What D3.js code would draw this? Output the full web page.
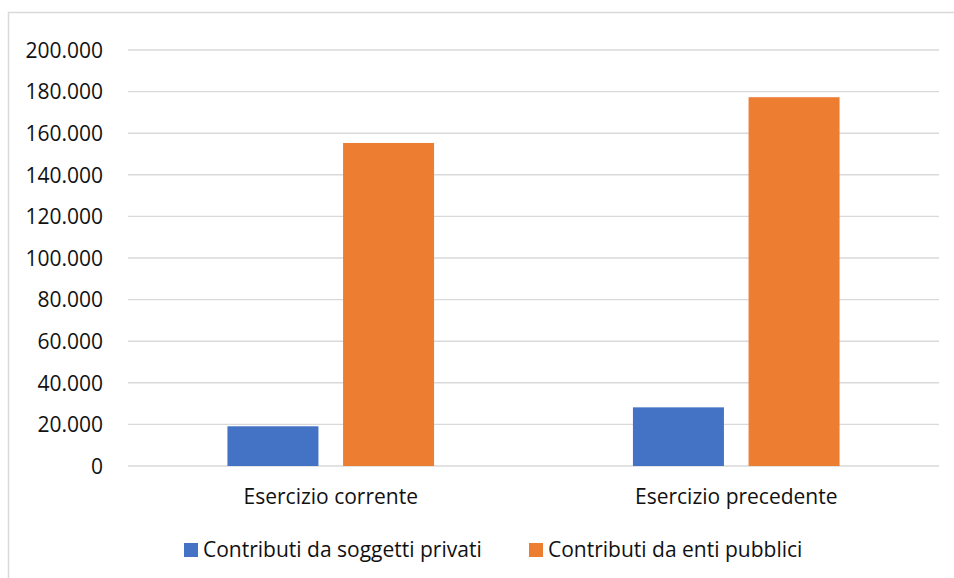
<!DOCTYPE html>
<html>
<head>
<meta charset="utf-8">
<script src="https://cdn.jsdelivr.net/npm/d3@7"></script>
<style>
  html, body { margin: 0; padding: 0; background: #fff; }
  svg { display: block; }
  text { font-family: "Open Sans", Lato, sans-serif; fill: #111; }
</style>
</head>
<body>
<svg id="chart" width="954" height="578"></svg>
<script>
// Categories and series
const categories = ["Esercizio corrente", "Esercizio precedente"];
const seriesNames = ["Contributi da soggetti privati", "Contributi da enti pubblici"];
const privati = [19100, 28200];
const pubblici = [155300, 177300];
const yTicks = [0, 20000, 40000, 60000, 80000, 100000, 120000, 140000, 160000, 180000, 200000];
const colors = ["#4472C4", "#ED7D31"];

const FONT = "'Open Sans', Lato, sans-serif";
const FS = 21;
const svg = d3.select("#chart");
const W = 954, H = 578;
const plot = { left: 128, right: 939, top: 50, bottom: 466 };

// Italian number formatting: 200.000
const it = d3.formatLocale({ decimal: ",", thousands: ".", grouping: [3], currency: ["€", ""] });
const fmt = it.format(",.0f");

// Chart frame
svg.append("rect")
  .attr("x", 8.5).attr("y", 12.5)
  .attr("width", W + 20).attr("height", H + 20)
  .attr("fill", "#fff")
  .attr("stroke", "#d9d9d9")
  .attr("stroke-width", 1.5);

const y = d3.scaleLinear().domain([0, 200000]).range([plot.bottom, plot.top]);
const x0 = d3.scaleBand().domain(categories).range([plot.left, plot.right]).padding(0);
const x1 = d3.scaleBand().domain(seriesNames).range([0, x0.bandwidth()])
  .paddingInner(0.213).paddingOuter(0.86);

// Gridlines
svg.append("g")
  .selectAll("line")
  .data(yTicks)
  .join("line")
  .attr("x1", plot.left).attr("x2", plot.right)
  .attr("y1", d => y(d)).attr("y2", d => y(d))
  .attr("stroke", "#d9d9d9")
  .attr("stroke-width", 1.4);

// Y axis labels
const yAxis = d3.axisLeft(y).tickValues(yTicks).tickFormat(fmt).tickSize(0).tickPadding(0);
const gy = svg.append("g").attr("transform", "translate(103,0)").call(yAxis);
gy.select(".domain").remove();
gy.selectAll("text")
  .attr("font-family", FONT)
  .attr("font-size", FS)
  .attr("fill", "#111")
  .attr("dy", "0.35em");

// Bars
const rows = categories.map((c, i) => ({ cat: c, values: [privati[i], pubblici[i]] }));
const groups = svg.append("g")
  .selectAll("g")
  .data(rows)
  .join("g")
  .attr("transform", d => `translate(${x0(d.cat)},0)`);

groups.selectAll("rect")
  .data(d => d.values.map((v, j) => ({ key: seriesNames[j], value: v, j })))
  .join("rect")
  .attr("x", d => x1(d.key))
  .attr("width", x1.bandwidth())
  .attr("y", d => y(d.value))
  .attr("height", d => y(0) - y(d.value))
  .attr("fill", d => colors[d.j]);

// Category labels
const xAxis = d3.axisBottom(x0).tickSize(0).tickPadding(0);
const gx = svg.append("g").attr("transform", `translate(0,${plot.bottom})`).call(xAxis);
gx.select(".domain").remove();
gx.selectAll("text")
  .attr("font-family", FONT)
  .attr("font-size", FS)
  .attr("fill", "#111")
  .attr("dy", null)
  .attr("y", 38);

// Legend
const legendItems = [
  { name: seriesNames[0], color: colors[0], x: 184 },
  { name: seriesNames[1], color: colors[1], x: 529 }
];
const lg = svg.append("g").selectAll("g").data(legendItems).join("g")
  .attr("transform", d => `translate(${d.x},543)`);
lg.append("rect").attr("width", 14).attr("height", 14).attr("fill", d => d.color);
lg.append("text")
  .attr("x", 19).attr("y", 13.5)
  .attr("font-family", FONT)
  .attr("font-size", FS)
  .text(d => d.name);
</script>
</body>
</html>
